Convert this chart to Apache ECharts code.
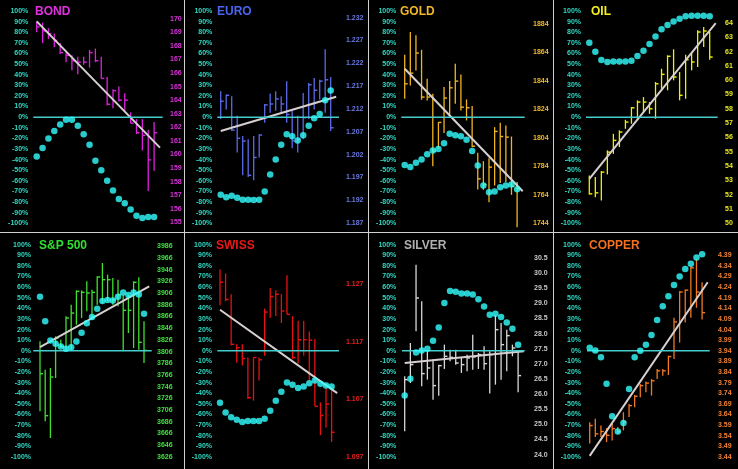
<!DOCTYPE html>
<html><head><meta charset="utf-8">
<style>html,body{margin:0;padding:0;background:#000}#c{width:738px;height:469px}</style>
<script src="https://cdn.jsdelivr.net/npm/echarts@6/dist/echarts.min.js"></script>
</head><body><div id="c"></div>
<script>
// ---- data ----
const names = ['BOND','EURO','GOLD','OIL','S&P 500','SWISS','SILVER','COPPER'];

const bondPct   = [-37,-29,-20,-13,-7,-2.5,-2.5,-8,-16,-26,-41,-50,-60,-69,-77,-81,-87,-93,-95,-94,-94];
const bondHigh  = [169.8,169.7,169.3,168.9,168.2,167.5,167.3,167.2,167.2,167.7,167.8,167.2,165.7,164.8,165.0,164.5,163.1,162.6,162.6,161.8,162.4];
const bondLow   = [169.0,168.2,168.5,167.9,167.4,166.8,166.2,165.9,166.6,166.4,166.8,165.6,163.6,163.4,163.9,163.2,162.3,161.5,160.3,157.3,158.8];
const bondClose = [169.4,169.1,168.9,168.4,167.5,167.3,166.9,166.8,166.8,167.5,166.9,165.6,163.7,164.7,164.0,164.0,162.3,161.6,161.4,159.6,161.6];
const bondTrend = [169.8,160.5];
const bondTicks = [155,156,157,158,159,160,161,162,163,164,165,166,167,168,169,170];

const euroPct   = [-73,-75.5,-74,-76,-77.7,-77.7,-78,-77.7,-70,-54,-40,-26,-16,-18,-22,-17,-8,-1,3,16,25];
const euroHigh  = [1.2159,1.2152,1.2148,1.2105,1.2061,1.2054,1.2061,1.2065,1.2131,1.2154,1.2159,1.2148,1.2181,1.2116,1.2105,1.2155,1.2177,1.2188,1.2184,1.2251,1.2190];
const euroLow   = [1.2098,1.2119,1.2072,1.2025,1.1975,1.1971,1.1964,1.2014,1.2090,1.2112,1.2116,1.2112,1.2090,1.2034,1.2025,1.2054,1.2098,1.2119,1.2141,1.2112,1.2072];
const euroClose = [1.2137,1.2150,1.2074,1.2056,1.2050,1.1975,1.2014,1.2063,1.2129,1.2131,1.2142,1.2131,1.2108,1.2050,1.2054,1.2101,1.2173,1.2161,1.2181,1.2184,1.2079];
const euroTrend = [1.2072,1.2147];
const euroTicks = [1.187,1.192,1.197,1.202,1.207,1.212,1.217,1.222,1.227,1.232];

const goldPct   = [-45,-47,-43,-40,-35,-31.5,-30,-24.5,-15.7,-17,-18,-21.4,-32,-45.6,-64.5,-70.8,-70,-66,-64.5,-63.5,-68];
const goldHigh  = [1862.2,1878.1,1875.8,1865.7,1845.4,1834.8,1814.9,1839.5,1843.7,1855.9,1848.4,1830.8,1826.2,1793.4,1787.5,1789.6,1811.4,1814.4,1812.6,1804.8,1772.8];
const goldLow   = [1831.3,1840.7,1851.2,1830.6,1830.1,1784.0,1796.2,1807.2,1818.4,1827.8,1823.1,1816.1,1797.3,1767.6,1767.4,1758.7,1770.4,1772.1,1772.8,1763.9,1741.1];
const goldClose = [1841.8,1849.3,1863.4,1832.5,1832.5,1794.5,1814.7,1831.8,1839.0,1843.7,1825.4,1825.0,1798.0,1775.1,1771.1,1783.3,1808.4,1804.8,1804.4,1769.9,1768.1];
const goldTrend = [1852.4,1766.4];
const goldTicks = [1744,1764,1784,1804,1824,1844,1864,1884];

const oilPct    = [70,61.6,53.8,51.9,52.5,52.5,52.5,53.1,57.5,62.5,69,76,82.7,86.8,90,92.8,95,95.6,95.6,95.6,95];
const oilHigh   = [53.34,53.22,53.64,55.09,56.25,56.49,57.23,58.12,58.59,58.82,58.47,59.87,60.80,61.74,62.16,60.57,61.78,61.97,63.49,63.72,63.37];
const oilLow    = [52.01,51.82,51.59,53.41,54.85,55.32,56.60,56.95,57.30,57.77,57.65,57.30,59.40,59.29,59.99,58.59,58.70,60.69,60.92,62.32,61.43];
const oilClose  = [52.05,52.12,53.57,54.97,55.79,56.37,57.07,58.07,58.47,58.47,58.00,59.75,60.41,61.67,60.22,58.94,61.43,61.27,63.37,63.44,61.62];
const oilTrend  = [53.1,64.0];
const oilTicks  = [50,51,52,53,54,55,56,57,58,59,60,61,62,63,64];

const spPct     = [51,28,9.7,6.6,4,2,3.5,8.8,17,26,32,39.6,47,48,47.4,51,55,52.7,55,53,35];
const spHigh    = [3823.6,3775.2,3778.0,3832.2,3826.5,3866.3,3886.3,3910.8,3910.8,3926.2,3911.9,3934.7,3957.5,3937.6,3931.9,3929.0,3903.4,3903.4,3926.2,3933.0,3857.8];
const spLow     = [3703.9,3686.9,3658.4,3760.9,3812.2,3809.4,3809.4,3852.1,3863.5,3874.9,3860.6,3886.3,3889.1,3892.0,3886.3,3883.4,3806.5,3837.9,3812.2,3809.4,3786.6];
const spClose   = [3768.3,3696.5,3762.6,3829.3,3815.1,3863.5,3872.0,3909.1,3907.4,3906.2,3907.4,3933.6,3929.0,3929.0,3894.8,3903.4,3876.6,3876.6,3924.5,3821.9,3808.2];
const spTrend   = [3813.9,3917.6];
const spTicks   = [3626,3646,3666,3686,3706,3726,3746,3766,3786,3806,3826,3846,3866,3886,3906,3926,3946,3966,3986];

const swissPct  = [-49,-58,-62.5,-65,-67,-66,-66,-66,-64,-56.5,-47,-38.6,-29.8,-32,-35,-33.6,-30.5,-28,-31,-32.6,-33.6];
const swissHigh = [1.1296,1.1289,1.1253,1.1166,1.1166,1.1143,1.1143,1.1143,1.1228,1.1264,1.1260,1.1253,1.1286,1.1215,1.1207,1.1207,1.1188,1.1175,1.1065,1.1090,1.1091];
const swissLow  = [1.1234,1.1241,1.1164,1.1134,1.1129,1.1071,1.1068,1.1103,1.1146,1.1212,1.1215,1.1203,1.1218,1.1140,1.1133,1.1146,1.1103,1.1058,1.1008,1.1021,1.0996];
const swissClose= [1.1274,1.1244,1.1166,1.1160,1.1141,1.1073,1.1143,1.1139,1.1222,1.1249,1.1253,1.1224,1.1218,1.1143,1.1174,1.1174,1.1173,1.1058,1.1042,1.1062,1.1013];
const swissTrend= [1.1226,1.1081];
const swissTicks= [1.097,1.107,1.117,1.127];

const silverPct  = [-42,-26.4,-1.6,0.3,2,9.4,22,45,56.5,55.6,54,54,53,48.7,41.8,34,35,31.8,26.8,20.8,5.7];
const silverHigh = [26.589,27.690,30.280,29.068,27.415,27.140,26.974,27.635,27.470,27.470,27.228,27.305,27.966,27.360,27.580,27.415,28.605,28.351,28.131,27.635,27.415];
const silverLow  = [24.771,26.368,28.076,26.258,26.478,25.817,25.949,26.831,27.084,26.974,26.699,26.754,26.809,26.831,26.809,26.016,26.313,26.478,26.754,27.250,26.060];
const silverClose= [26.478,26.974,29.178,26.677,26.864,26.280,26.941,27.250,27.217,27.029,26.974,27.195,27.228,27.305,27.007,27.305,28.131,27.635,27.933,27.525,26.611];
const silverTrend= [27.03,27.42];
const silverTicks= [24.0,24.5,25.0,25.5,26.0,26.5,27.0,27.5,28.0,28.5,29.0,29.5,30.0,30.5];

const copperPct  = [3,0.3,-6,-31,-61.5,-76,-68,-36,-6,0,5.7,15,29,42,51.5,62,70,77,82,88,91];
const copperHigh = [3.604,3.620,3.588,3.576,3.596,3.581,3.651,3.690,3.732,3.784,3.795,3.807,3.854,3.854,3.917,4.096,4.221,4.229,4.338,4.373,4.263];
const copperLow  = [3.503,3.534,3.534,3.510,3.518,3.549,3.565,3.628,3.674,3.721,3.745,3.729,3.807,3.823,3.826,3.901,3.979,4.073,4.096,4.143,4.088];
const copperClose= [3.588,3.549,3.560,3.542,3.573,3.560,3.604,3.682,3.726,3.776,3.788,3.799,3.846,3.846,3.913,4.076,4.217,4.226,4.331,4.217,4.120];
const copperTrend= [3.445,4.263];
const copperTicks= [3.44,3.49,3.54,3.59,3.64,3.69,3.74,3.79,3.84,3.89,3.94,3.99,4.04,4.09,4.14,4.19,4.24,4.29,4.34,4.39];

const pctTicks = [-100,100,10]; // min, max, interval

// ---- assembly ----
const panels = [
  {pct:bondPct, hi:bondHigh, lo:bondLow, cl:bondClose, tr:bondTrend, ticks:bondTicks},
  {pct:euroPct, hi:euroHigh, lo:euroLow, cl:euroClose, tr:euroTrend, ticks:euroTicks},
  {pct:goldPct, hi:goldHigh, lo:goldLow, cl:goldClose, tr:goldTrend, ticks:goldTicks},
  {pct:oilPct, hi:oilHigh, lo:oilLow, cl:oilClose, tr:oilTrend, ticks:oilTicks},
  {pct:spPct, hi:spHigh, lo:spLow, cl:spClose, tr:spTrend, ticks:spTicks},
  {pct:swissPct, hi:swissHigh, lo:swissLow, cl:swissClose, tr:swissTrend, ticks:swissTicks},
  {pct:silverPct, hi:silverHigh, lo:silverLow, cl:silverClose, tr:silverTrend, ticks:silverTicks},
  {pct:copperPct, hi:copperHigh, lo:copperLow, cl:copperClose, tr:copperTrend, ticks:copperTicks}
];

// layout / style (pixel positions, not data)
const layout = [
 {zl:33.3, zr:162.7, x0:36.7, step:5.87, top:11, le:28.3, rs:170, rMin:154.93, rMax:170.566, dec:0, tx:35, title:'#e030e0', bar:'#e020e0', lab:'#d830d8'},
 {zl:217.3, zr:339, x0:220.7, step:5.5, top:11, le:212.3, rs:346, rMin:1.18699, rMax:1.23345, dec:3, tx:217, title:'#4a64f0', bar:'#5a6ae8', lab:'#6878e0'},
 {zl:401.3, zr:524.7, x0:404.7, step:5.62, top:11, le:396.3, rs:533, rMin:1743.9, rMax:1892.9, dec:0, tx:400, title:'#f0b828', bar:'#f0b420', lab:'#f0b830'},
 {zl:586, zr:717.7, x0:589.3, step:6.02, top:11, le:581, rs:725, rMin:49.99, rMax:64.84, dec:0, tx:591, title:'#f0f020', bar:'#f0f000', lab:'#e8e820'},
 {zl:33.3, zr:151.7, x0:40, step:5.2, top:244.7, le:31, rs:157, rMin:3625.9, rMax:3988.8, dec:0, tx:39, title:'#30e030', bar:'#40e030', lab:'#40e040'},
 {zl:217.3, zr:339, x0:220, step:5.58, top:244.7, le:212, rs:346, rMin:1.09699, rMax:1.13392, dec:3, tx:216, title:'#e81818', bar:'#e81010', lab:'#e02020'},
 {zl:402, zr:524.7, x0:404.7, step:5.67, top:244.7, le:396.3, rs:534, rMin:23.92, rMax:30.94, dec:1, tx:404, title:'#b0b0b0', bar:'#d8d8d8', lab:'#c8c8c8'},
 {zl:587, zr:709.7, x0:589.7, step:5.62, top:244.7, le:581, rs:718, rMin:3.4399, rMax:4.44, dec:2, tx:589, title:'#f07020', bar:'#f07820', lab:'#f08030'}
];
const GH = 212.3;
const FONT = '"Liberation Sans", Arial, sans-serif';

const grid=[], xAxis=[], yAxis=[], series=[], title=[];
panels.forEach((p, i) => {
  const L = layout[i];
  const xmin = (L.zl - L.x0) / L.step, xmax = (L.zr - L.x0) / L.step;
  grid.push({left: L.zl, top: L.top, width: L.zr - L.zl, height: GH});
  xAxis.push({type:'value', gridIndex:i, min:xmin, max:xmax, show:false});
  yAxis.push({type:'value', gridIndex:i, position:'left', min:pctTicks[0], max:pctTicks[1], interval:pctTicks[2],
    axisLine:{show:false}, axisTick:{show:false}, splitLine:{show:false},
    axisLabel:{formatter:'{value}%', color:'#30d8c4', fontSize:7, fontWeight:'bold', fontFamily:FONT, margin:L.zl - L.le}});
  yAxis.push({type:'value', gridIndex:i, position:'right', min:L.rMin, max:L.rMax,
    axisLine:{show:false}, axisTick:{show:false}, splitLine:{show:false},
    axisLabel:{customValues:p.ticks, formatter:(v)=>v.toFixed(L.dec), color:L.lab, fontSize:7, fontWeight:'bold', fontFamily:FONT, margin:L.rs - L.zr}});
  title.push({text:names[i], left:L.tx, top:L.top - 5, textStyle:{color:L.title, fontSize:12, fontWeight:'bold', fontFamily:FONT}, padding:0});

  const n = p.pct.length;
  const barData = p.hi.map((h, k) => [k, h, p.lo[k], p.cl[k]]);
  series.push({type:'custom', xAxisIndex:i, yAxisIndex:2*i+1, z:2, data:barData, encode:{x:0, y:[1,2,3]},
    renderItem:(params, api) => {
      const x = api.value(0);
      const hi = api.coord([x, api.value(1)]);
      const lo = api.coord([x, api.value(2)]);
      const cl = api.coord([x, api.value(3)]);
      return {type:'group', children:[
        {type:'line', shape:{x1:hi[0], y1:hi[1], x2:lo[0], y2:lo[1]}, style:{stroke:L.bar, lineWidth:1.3}},
        {type:'line', shape:{x1:cl[0], y1:cl[1], x2:cl[0]+3, y2:cl[1]}, style:{stroke:L.bar, lineWidth:1.4}}
      ]};
    }});
  series.push({type:'line', xAxisIndex:i, yAxisIndex:2*i+1, z:3, symbol:'none', silent:true,
    data:[[0, p.tr[0]], [n, p.tr[1]]], lineStyle:{color:'#d8d0d0', width:2}});
  series.push({type:'line', xAxisIndex:i, yAxisIndex:2*i, z:3, symbol:'none', silent:true,
    data:[[xmin, 0], [xmax, 0]], lineStyle:{color:'#45cccc', width:1.5}});
  series.push({type:'scatter', xAxisIndex:i, yAxisIndex:2*i, z:4, symbol:'circle', symbolSize:6.5,
    data:p.pct.map((v, k) => [k, v]), itemStyle:{color:'#33ffff'}});
});

const graphic = [
  {type:'line', shape:{x1:184.5, y1:0, x2:184.5, y2:469}, style:{stroke:'#d0d0d0', lineWidth:1}},
  {type:'line', shape:{x1:368.5, y1:0, x2:368.5, y2:469}, style:{stroke:'#d0d0d0', lineWidth:1}},
  {type:'line', shape:{x1:553.5, y1:0, x2:553.5, y2:469}, style:{stroke:'#d0d0d0', lineWidth:1}},
  {type:'line', shape:{x1:0, y1:232.5, x2:738, y2:232.5}, style:{stroke:'#d0d0d0', lineWidth:1}}
];

const chart = echarts.init(document.getElementById('c'), null, {renderer:'canvas'});
chart.setOption({backgroundColor:'#000', animation:false, title, grid, xAxis, yAxis, series, graphic});
</script>
</body></html>
